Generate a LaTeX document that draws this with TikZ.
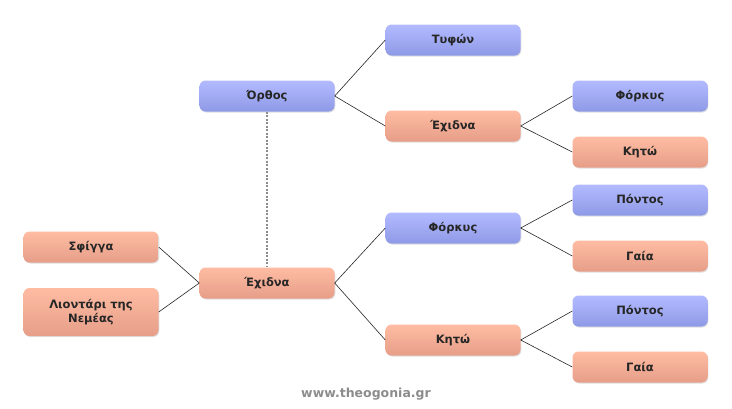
\documentclass[tikz,border=0pt]{standalone}
\usepackage{fontspec}
\setmainfont{DejaVu Sans}
\usetikzlibrary{shadows}
\definecolor{bluetop}{HTML}{B3BBFF}
\definecolor{bluebot}{HTML}{8E99E6}
\definecolor{pinktop}{HTML}{FFBCA3}
\definecolor{pinkbot}{HTML}{E69E88}
\begin{document}
\begin{tikzpicture}[x=1pt,y=1pt,
    every node/.style={font=\fontsize{11.5}{14}\selectfont\bfseries,text=black!85},
    box/.style={rounded corners=6pt,minimum width=135pt,minimum height=31pt,align=center,
        drop shadow={opacity=0.25,shadow xshift=0.8pt,shadow yshift=-1pt}},
    male/.style={box,top color=bluetop,bottom color=bluebot},
    female/.style={box,top color=pinktop,bottom color=pinkbot},
    link/.style={black!85,line width=0.6pt}]
    \useasboundingbox (0,0) rectangle (732,-408);
    %tree
    \node[male] (orthos) at (267,-96) {Όρθος};
    \node[female] (echidna) at (267,-283) {Έχιδνα};
    \node[male] (tyfon) at (453,-40) {Τυφών};
    \node[female] (echidna1) at (453,-126) {Έχιδνα};
    \node[male] (forkys1) at (640,-96) {Φόρκυς};
    \node[female] (kito1) at (640,-152) {Κητώ};
    \node[male] (forkys2) at (453,-228) {Φόρκυς};
    \node[male] (pontos1) at (640,-200) {Πόντος};
    \node[female] (gaia1) at (640,-256) {Γαία};
    \node[female] (kito2) at (453,-340) {Κητώ};
    \node[male] (pontos2) at (640,-311) {Πόντος};
    \node[female] (gaia2) at (640,-367) {Γαία};
    \node[female] (sfigga) at (91,-247) {Σφίγγα};
    \node[female,minimum height=48pt] (leon) at (91,-312) {Λιοντάρι της\\Νεμέας};
    \draw[link] (orthos.east) -- (tyfon.west);
    \draw[link] (orthos.east) -- (echidna1.west);
    \draw[link] (echidna1.east) -- (forkys1.west);
    \draw[link] (echidna1.east) -- (kito1.west);
    \draw[link] (echidna.east) -- (forkys2.west);
    \draw[link] (echidna.east) -- (kito2.west);
    \draw[link] (forkys2.east) -- (pontos1.west);
    \draw[link] (forkys2.east) -- (gaia1.west);
    \draw[link] (kito2.east) -- (pontos2.west);
    \draw[link] (kito2.east) -- (gaia2.west);
    \draw[link] (sfigga.east) -- (echidna.west);
    \draw[link] (leon.east) -- (echidna.west);
    \draw[black!45,line width=1.2pt,dash pattern=on 2pt off 1.5pt] (orthos.south) -- (echidna.north);
    \node[text=black!45,font=\fontsize{12.5}{14}\selectfont\bfseries] (site) at (366,-394) {www.theogonia.gr};
\end{tikzpicture}
\end{document}
